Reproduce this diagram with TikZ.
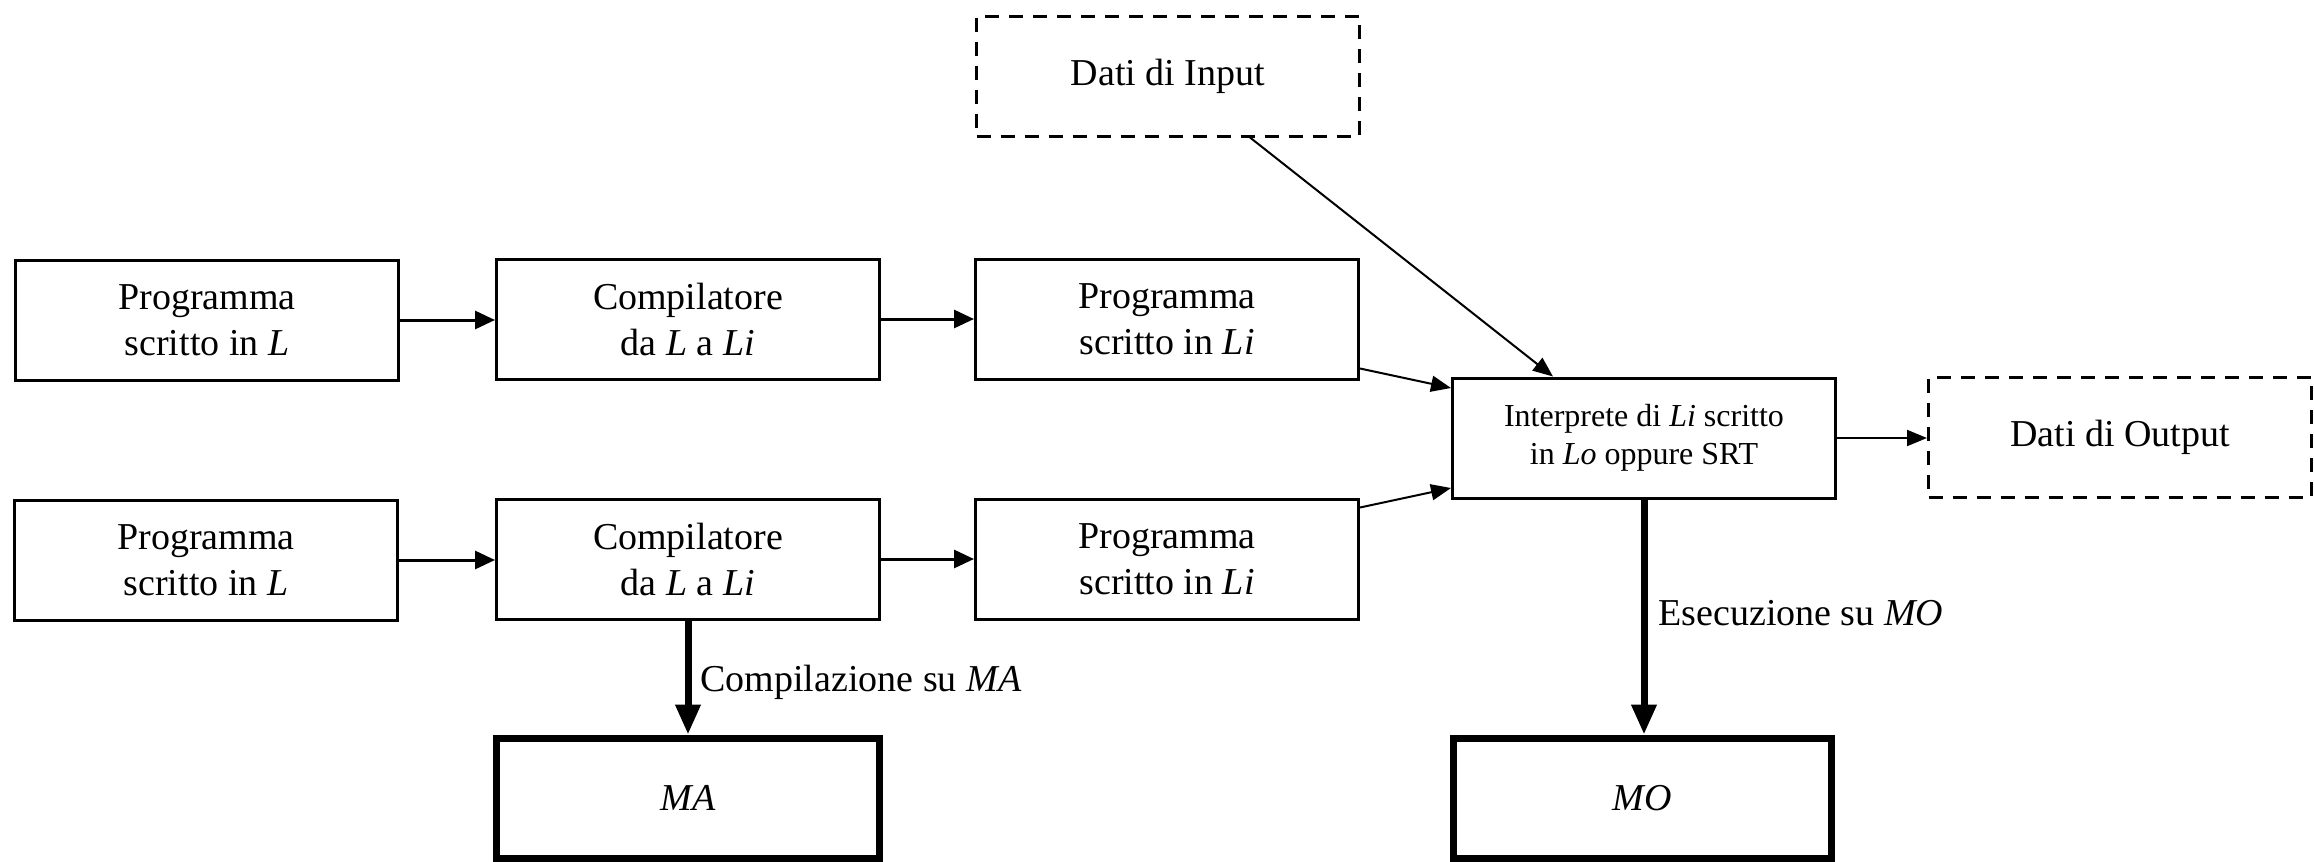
\documentclass[tikz,border=0pt]{standalone}
\usepackage{fontspec}
\setmainfont{Liberation Serif}
\usetikzlibrary{arrows.meta,calc}
\begin{document}
\begin{tikzpicture}[x=0.5pt,y=-0.5pt,
  box/.style={draw, line width=1.5pt, inner sep=0pt, align=center,
    font=\fontsize{19}{23}\selectfont, minimum width=191.5pt, minimum height=60pt},
  dbox/.style={box, dash pattern=on 7pt off 5pt},
  mbox/.style={box, line width=3.5pt},
  arr/.style={line width=1.5pt, -{Triangle[length=10pt,width=9pt]}},
  tarr/.style={line width=1pt, -{Triangle[length=10pt,width=8pt]}},
  varr/.style={line width=3.5pt, -{Triangle[length=15pt,width=12pt]}},
  lbl/.style={anchor=west, inner sep=0pt, font=\fontsize{19}{23}\selectfont}]
\useasboundingbox (0,0) rectangle (2314,862);

\node[dbox] (in) at (1168,76) {Dati di Input};

\node[box] (b1) at (207,320) {Programma\\scritto in \textit{L}};
\node[box] (b2) at (688,319) {Compilatore\\da \textit{L} a \textit{Li}};
\node[box] (b3) at (1167,319) {Programma\\scritto in \textit{Li}};

\node[box] (b4) at (206,560) {Programma\\scritto in \textit{L}};
\node[box] (b5) at (688,559) {Compilatore\\da \textit{L} a \textit{Li}};
\node[box] (b6) at (1167,559) {Programma\\scritto in \textit{Li}};

\node[box, font=\fontsize{16}{19}\selectfont] (int) at (1644,438)
  {Interprete di \textit{Li} scritto\\in \textit{Lo} oppure SRT};
\node[dbox] (out) at (2120,437) {Dati di Output};

\node[mbox] (ma) at (688,798) {\textit{MA}};
\node[mbox, minimum width=189pt] (mo) at (1642,798) {\textit{MO}};

\draw[arr] (b1.east) -- (b1.east -| b2.west);
\draw[arr] (b2.east) -- (b2.east -| b3.west);
\draw[arr] (b4.east) -- (b4.east -| b5.west);
\draw[arr] (b5.east) -- (b5.east -| b6.west);

\draw[tarr] ([yshift=6pt]b3.south east) -- ([yshift=25pt]int.west);
\draw[tarr] ([yshift=-5pt]b6.north east) -- ([yshift=-25pt]int.west);
\draw[tarr] ([xshift=41pt]in.south) -- ([xshift=-45.5pt]int.north);
\draw[tarr] (int.east) -- (int.east -| out.west);

\draw[varr] (b5.south) -- (b5.south |- ma.north);
\draw[varr] (int.south) -- (int.south |- mo.north);

\node[lbl] (lma) at (700,682) {Compilazione su \textit{MA}};
\node[lbl] (lmo) at (1658,613) {Esecuzione su \textit{MO}};
\end{tikzpicture}
\end{document}
